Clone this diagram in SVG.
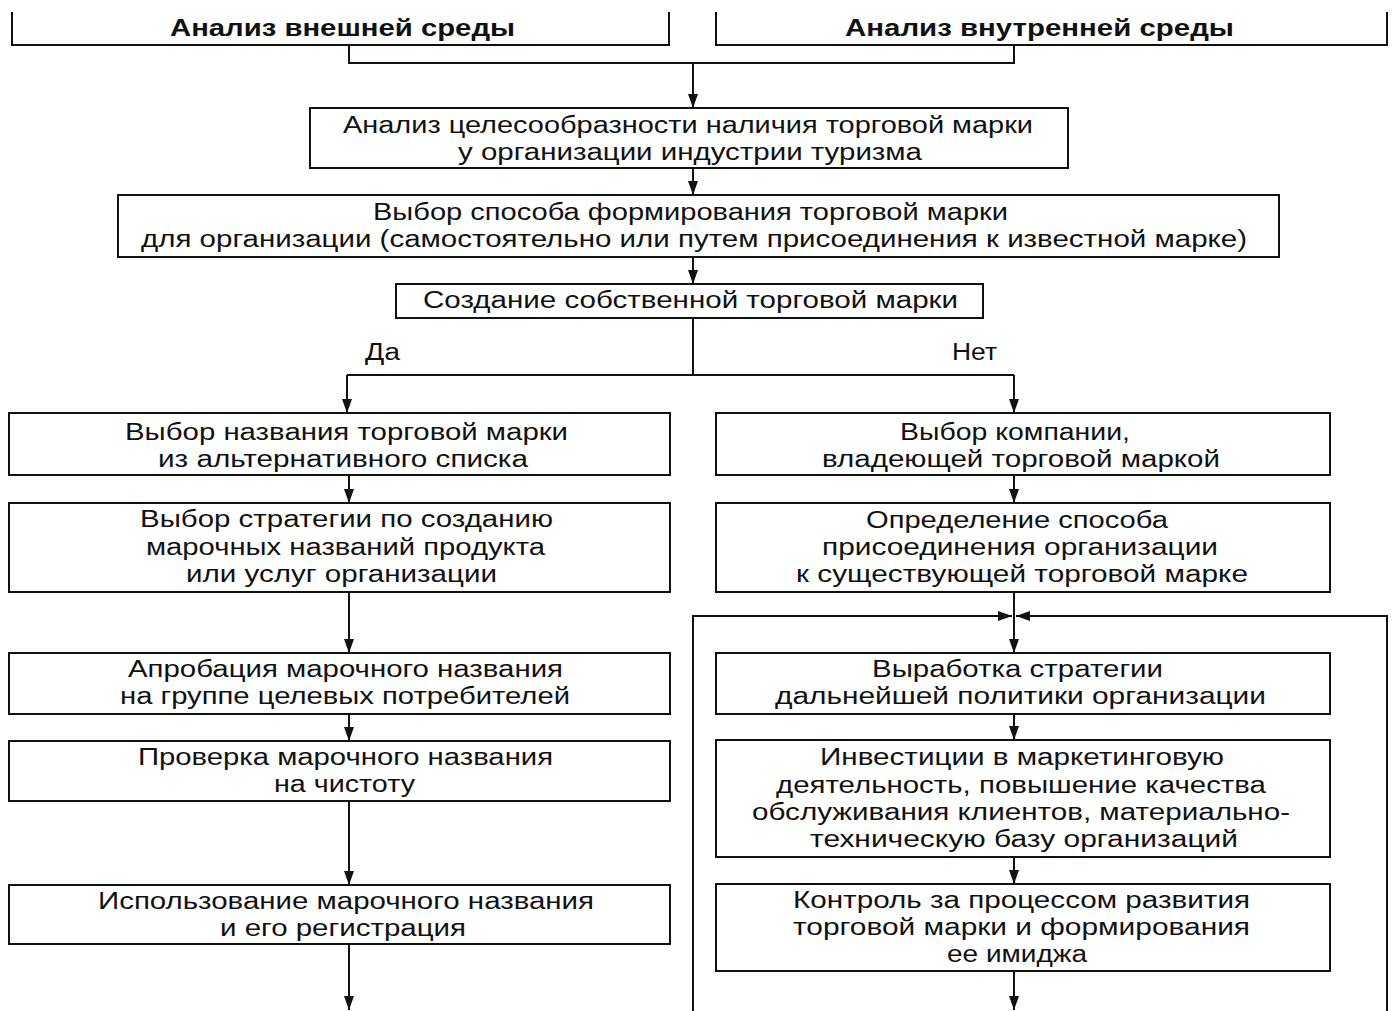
<svg xmlns="http://www.w3.org/2000/svg" width="1394" height="1011" viewBox="0 0 1394 1011">
<style>
.box{fill:#fff;stroke:#111;stroke-width:2}
.ln{fill:none;stroke:#111;stroke-width:2}
.t{font-family:"Liberation Sans",Arial,sans-serif;font-size:23px;fill:#111}
.b{font-weight:bold}
</style>
<defs>
<marker id="ah" viewBox="0 0 14 10" refX="14" refY="5" markerWidth="14" markerHeight="10" markerUnits="userSpaceOnUse" orient="auto">
<path d="M0,0 L14,5 L0,10 z" fill="#111"/>
</marker>
</defs>
<rect width="1394" height="1011" fill="#fff"/>
<g id="connectors">
<path class="ln" d="M349,45 V63 H1014 V45"/>
<path class="ln" d="M693,63 V108" marker-end="url(#ah)"/>
<path class="ln" d="M693,168 V195" marker-end="url(#ah)"/>
<path class="ln" d="M693,257 V284" marker-end="url(#ah)"/>
<path class="ln" d="M693,318 V375 M347,375 H1014"/>
<path class="ln" d="M347,375 V413" marker-end="url(#ah)"/>
<path class="ln" d="M1014,375 V413" marker-end="url(#ah)"/>
<path class="ln" d="M349,475 V503" marker-end="url(#ah)"/>
<path class="ln" d="M349,592 V653" marker-end="url(#ah)"/>
<path class="ln" d="M349,714 V741" marker-end="url(#ah)"/>
<path class="ln" d="M349,801 V885" marker-end="url(#ah)"/>
<path class="ln" d="M349,944 V1010" marker-end="url(#ah)"/>
<path class="ln" d="M1014,475 V503" marker-end="url(#ah)"/>
<path class="ln" d="M1014,592 V653" marker-end="url(#ah)"/>
<path class="ln" d="M1014,714 V740" marker-end="url(#ah)"/>
<path class="ln" d="M1014,857 V884" marker-end="url(#ah)"/>
<path class="ln" d="M1014,971 V1010" marker-end="url(#ah)"/>
<path class="ln" d="M693,1011 V616 H1012" marker-end="url(#ah)"/>
<path class="ln" d="M1387,1011 V616 H1016" marker-end="url(#ah)"/>
</g>
<g id="n_ext">
<path class="ln" d="M12,12 V45 H669 V12"/>
<text class="t b" x="170" y="36" textLength="345" lengthAdjust="spacingAndGlyphs">Анализ внешней среды</text>
</g>
<g id="n_int">
<path class="ln" d="M716,12 V45 H1387 V12"/>
<text class="t b" x="845" y="36" textLength="389" lengthAdjust="spacingAndGlyphs">Анализ внутренней среды</text>
</g>
<g id="n1">
<rect class="box" x="310" y="108" width="758" height="60"/>
<text class="t" x="343" y="133" textLength="690" lengthAdjust="spacingAndGlyphs">Анализ целесообразности наличия торговой марки</text>
<text class="t" x="458" y="160" textLength="464" lengthAdjust="spacingAndGlyphs">у организации индустрии туризма</text>
</g>
<g id="n2">
<rect class="box" x="118" y="195" width="1161" height="62"/>
<text class="t" x="373" y="220" textLength="635" lengthAdjust="spacingAndGlyphs">Выбор способа формирования торговой марки</text>
<text class="t" x="141" y="247" textLength="1106" lengthAdjust="spacingAndGlyphs">для организации (самостоятельно или путем присоединения к известной марке)</text>
</g>
<g id="n3">
<rect class="box" x="396" y="284" width="587" height="34"/>
<text class="t" x="423" y="308" textLength="535" lengthAdjust="spacingAndGlyphs">Создание собственной торговой марки</text>
</g>
<g id="labels">
<text class="t" x="365" y="360" textLength="35" lengthAdjust="spacingAndGlyphs">Да</text>
<text class="t" x="952" y="360" textLength="45" lengthAdjust="spacingAndGlyphs">Нет</text>
</g>
<g id="l1">
<rect class="box" x="9" y="413" width="661" height="62"/>
<text class="t" x="125" y="440" textLength="443" lengthAdjust="spacingAndGlyphs">Выбор названия торговой марки</text>
<text class="t" x="158" y="467" textLength="370" lengthAdjust="spacingAndGlyphs">из альтернативного списка</text>
</g>
<g id="l2">
<rect class="box" x="9" y="503" width="661" height="89"/>
<text class="t" x="140" y="527" textLength="413" lengthAdjust="spacingAndGlyphs">Выбор стратегии по созданию</text>
<text class="t" x="146" y="555" textLength="399" lengthAdjust="spacingAndGlyphs">марочных названий продукта</text>
<text class="t" x="186" y="582" textLength="311" lengthAdjust="spacingAndGlyphs">или услуг организации</text>
</g>
<g id="l3">
<rect class="box" x="9" y="653" width="661" height="61"/>
<text class="t" x="128" y="677" textLength="435" lengthAdjust="spacingAndGlyphs">Апробация марочного названия</text>
<text class="t" x="120" y="704" textLength="450" lengthAdjust="spacingAndGlyphs">на группе целевых потребителей</text>
</g>
<g id="l4">
<rect class="box" x="9" y="741" width="661" height="60"/>
<text class="t" x="138" y="765" textLength="415" lengthAdjust="spacingAndGlyphs">Проверка марочного названия</text>
<text class="t" x="274" y="792" textLength="141" lengthAdjust="spacingAndGlyphs">на чистоту</text>
</g>
<g id="l5">
<rect class="box" x="9" y="885" width="661" height="59"/>
<text class="t" x="98" y="909" textLength="496" lengthAdjust="spacingAndGlyphs">Использование марочного названия</text>
<text class="t" x="220" y="936" textLength="246" lengthAdjust="spacingAndGlyphs">и его регистрация</text>
</g>
<g id="r1">
<rect class="box" x="716" y="413" width="614" height="62"/>
<text class="t" x="900" y="440" textLength="230" lengthAdjust="spacingAndGlyphs">Выбор компании,</text>
<text class="t" x="822" y="467" textLength="398" lengthAdjust="spacingAndGlyphs">владеющей торговой маркой</text>
</g>
<g id="r2">
<rect class="box" x="716" y="503" width="614" height="89"/>
<text class="t" x="866" y="528" textLength="302" lengthAdjust="spacingAndGlyphs">Определение способа</text>
<text class="t" x="822" y="555" textLength="396" lengthAdjust="spacingAndGlyphs">присоединения организации</text>
<text class="t" x="796" y="582" textLength="452" lengthAdjust="spacingAndGlyphs">к существующей торговой марке</text>
</g>
<g id="r3">
<rect class="box" x="716" y="653" width="614" height="61"/>
<text class="t" x="872" y="677" textLength="291" lengthAdjust="spacingAndGlyphs">Выработка стратегии</text>
<text class="t" x="775" y="704" textLength="491" lengthAdjust="spacingAndGlyphs">дальнейшей политики организации</text>
</g>
<g id="r4">
<rect class="box" x="716" y="740" width="614" height="117"/>
<text class="t" x="820" y="765" textLength="404" lengthAdjust="spacingAndGlyphs">Инвестиции в маркетинговую</text>
<text class="t" x="776" y="793" textLength="490" lengthAdjust="spacingAndGlyphs">деятельность, повышение качества</text>
<text class="t" x="752" y="820" textLength="538" lengthAdjust="spacingAndGlyphs">обслуживания клиентов, материально-</text>
<text class="t" x="810" y="847" textLength="428" lengthAdjust="spacingAndGlyphs">техническую базу организаций</text>
</g>
<g id="r5">
<rect class="box" x="716" y="884" width="614" height="87"/>
<text class="t" x="793" y="908" textLength="457" lengthAdjust="spacingAndGlyphs">Контроль за процессом развития</text>
<text class="t" x="793" y="935" textLength="457" lengthAdjust="spacingAndGlyphs">торговой марки и формирования</text>
<text class="t" x="947" y="962" textLength="140" lengthAdjust="spacingAndGlyphs">ее имиджа</text>
</g>
</svg>
